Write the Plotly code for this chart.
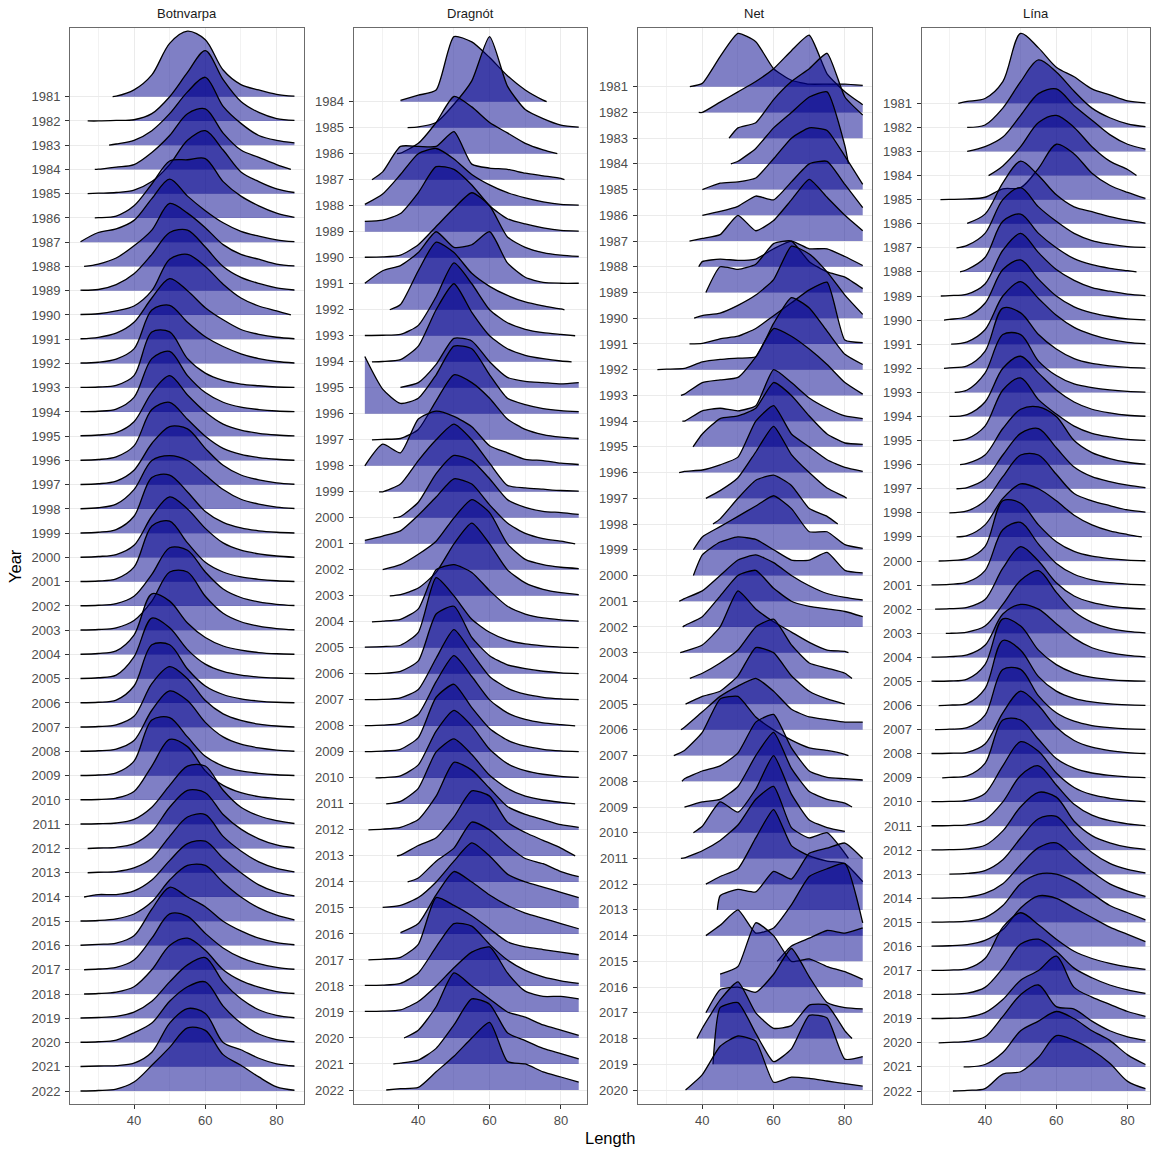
import plotly.graph_objects as go

# ---------------- data ----------------
GRID = [25, 30, 35, 40, 45, 50, 55, 60, 65, 70, 75, 80, 85]

BOT_YEARS = list(range(1981, 2023))
BOT_START = [34, 27, 33, 29, 27, 29, 25, 26, 25, 25, 25, 25, 25, 25, 25, 25, 25, 25, 25, 25, 25,
             25, 25, 25, 25, 25, 25, 25, 25, 25, 25, 27, 27, 26, 25, 25, 26, 26, 25, 25, 25, 25]
BOT_END = [85, 85, 85, 84, 85, 85, 85, 85, 85, 84, 85, 85, 85, 85, 85, 85, 85, 85, 85, 85, 85,
           85, 85, 85, 85, 85, 85, 85, 85, 85, 85, 85, 85, 85, 85, 85, 85, 85, 85, 85, 85, 85]
BOT_DENS = [
    [0, 0, 2, 28, 90, 220, 270, 235, 110, 50, 28, 10, 2],
    [0, 0, 2, 5, 30, 100, 200, 290, 170, 80, 35, 10, 2],
    [0, 0, 5, 20, 60, 130, 220, 280, 160, 90, 40, 20, 10],
    [0, 1, 10, 20, 70, 140, 230, 250, 150, 80, 50, 20, 0],
    [0, 2, 5, 15, 50, 120, 220, 260, 180, 90, 50, 20, 5],
    [0, 1, 8, 50, 140, 235, 240, 245, 150, 90, 50, 20, 2],
    [2, 40, 55, 90, 180, 260, 190, 130, 80, 45, 25, 10, 2],
    [0, 10, 35, 85, 150, 260, 220, 160, 90, 50, 30, 10, 2],
    [2, 5, 25, 70, 150, 240, 250, 180, 100, 55, 30, 12, 3],
    [2, 5, 17, 37, 100, 230, 250, 200, 127, 70, 37, 17, 0],
    [2, 8, 25, 70, 170, 250, 200, 130, 80, 40, 20, 8, 2],
    [2, 5, 18, 60, 220, 240, 170, 110, 70, 40, 20, 8, 2],
    [1, 3, 10, 50, 230, 230, 120, 60, 30, 15, 8, 3, 1],
    [1, 3, 12, 60, 220, 250, 150, 80, 40, 20, 10, 4, 1],
    [2, 5, 15, 60, 180, 250, 170, 100, 50, 25, 12, 5, 1],
    [1, 4, 15, 60, 210, 240, 170, 100, 50, 25, 12, 5, 1],
    [1, 4, 15, 60, 170, 240, 230, 150, 80, 40, 20, 8, 2],
    [1, 5, 20, 80, 200, 220, 200, 140, 80, 40, 20, 8, 2],
    [1, 4, 15, 70, 230, 240, 170, 90, 45, 22, 10, 4, 1],
    [1, 4, 12, 50, 170, 250, 200, 120, 60, 30, 15, 6, 1],
    [1, 3, 12, 60, 230, 250, 160, 80, 40, 20, 10, 4, 1],
    [1, 3, 10, 40, 130, 240, 230, 140, 70, 35, 17, 7, 2],
    [1, 3, 10, 40, 120, 240, 240, 140, 70, 35, 17, 7, 2],
    [1, 4, 15, 80, 250, 220, 130, 70, 35, 18, 8, 3, 1],
    [1, 4, 15, 90, 250, 210, 120, 60, 30, 15, 7, 3, 1],
    [1, 3, 12, 70, 240, 240, 140, 70, 35, 17, 8, 3, 1],
    [1, 3, 10, 45, 180, 250, 200, 110, 55, 28, 13, 5, 1],
    [1, 3, 10, 45, 170, 250, 210, 120, 60, 30, 15, 6, 1],
    [1, 3, 12, 60, 230, 240, 160, 80, 40, 20, 10, 4, 1],
    [1, 2, 8, 35, 140, 250, 220, 120, 60, 30, 14, 6, 1],
    [1, 2, 5, 20, 70, 160, 240, 240, 140, 70, 35, 15, 3],
    [0, 2, 5, 20, 70, 170, 240, 230, 140, 80, 40, 15, 3],
    [0, 2, 5, 20, 60, 150, 230, 240, 150, 90, 45, 18, 4],
    [0, 10, 10, 25, 70, 150, 220, 230, 160, 100, 50, 20, 5],
    [1, 3, 10, 30, 80, 170, 230, 230, 160, 100, 55, 25, 6],
    [1, 5, 10, 40, 150, 240, 200, 160, 100, 60, 30, 12, 3],
    [0, 3, 10, 40, 130, 230, 220, 150, 90, 50, 25, 10, 2],
    [0, 2, 8, 30, 100, 200, 230, 180, 100, 55, 28, 10, 2],
    [1, 3, 8, 25, 70, 150, 220, 250, 150, 80, 35, 12, 2],
    [1, 3, 10, 40, 80, 170, 230, 250, 150, 80, 35, 12, 3],
    [1, 3, 5, 15, 60, 180, 240, 220, 100, 70, 35, 12, 3],
    [0, 2, 8, 37, 106, 180, 260, 250, 150, 106, 58, 17, 3],
]

DRA_YEARS = list(range(1984, 2023))
DRA_START = [35, 37, 34, 27, 25, 25, 25, 25, 32, 25, 27, 35, 25, 27, 25, 29, 33, 25, 30, 32,
             27, 25, 25, 25, 25, 25, 28, 31, 26, 34, 37, 30, 35, 26, 25, 25, 36, 33, 31]
DRA_END = [76, 85, 79, 81, 85, 85, 85, 85, 81, 84, 83, 85, 85, 85, 85, 85, 85, 84, 85, 85,
           85, 85, 85, 85, 84, 85, 85, 84, 85, 84, 85, 85, 85, 85, 85, 85, 85, 85, 85]
DRA_DENS = [
    [0, 0, 5, 25, 45, 250, 230, 170, 100, 45, 6, 0, 0],
    [0, 0, 0, 3, 20, 90, 180, 350, 160, 70, 35, 10, 2],
    [0, 0, 2, 40, 120, 220, 180, 120, 80, 40, 15, 0, 0],
    [0, 30, 128, 128, 128, 185, 60, 45, 40, 25, 15, 5, 0],
    [5, 45, 120, 200, 220, 180, 120, 80, 50, 30, 15, 5, 2],
    [40, 45, 70, 150, 250, 240, 180, 100, 50, 30, 15, 5, 2],
    [2, 3, 10, 50, 120, 190, 250, 200, 80, 40, 20, 10, 5],
    [2, 50, 70, 120, 200, 140, 150, 200, 80, 25, 5, 2, 2],
    [0, 0, 20, 150, 260, 220, 140, 90, 55, 30, 15, 3, 0],
    [1, 2, 5, 40, 150, 280, 200, 100, 50, 25, 12, 5, 0],
    [0, 1, 8, 60, 200, 300, 190, 100, 50, 25, 12, 3, 0],
    [0, 0, 2, 20, 90, 190, 180, 100, 40, 25, 20, 15, 20],
    [220, 95, 40, 60, 150, 260, 250, 150, 60, 35, 20, 12, 8],
    [0, 2, 5, 40, 150, 250, 220, 160, 80, 40, 20, 10, 5],
    [0, 83, 50, 180, 210, 190, 150, 77, 50, 25, 20, 10, 5],
    [0, 0, 30, 120, 200, 260, 200, 110, 25, 15, 10, 5, 3],
    [0, 0, 5, 60, 170, 240, 220, 150, 70, 40, 25, 20, 13],
    [13, 30, 50, 110, 180, 250, 230, 150, 80, 40, 20, 10, 0],
    [0, 1, 20, 60, 110, 200, 270, 220, 100, 40, 20, 10, 5],
    [0, 0, 5, 30, 90, 200, 280, 200, 100, 50, 25, 12, 5],
    [0, 3, 10, 50, 200, 220, 190, 120, 60, 30, 15, 8, 3],
    [3, 5, 10, 60, 270, 200, 110, 60, 30, 15, 8, 3, 1],
    [1, 2, 10, 50, 230, 260, 140, 70, 35, 20, 10, 4, 1],
    [1, 2, 8, 40, 160, 270, 180, 90, 45, 22, 10, 4, 1],
    [1, 3, 10, 45, 170, 270, 190, 100, 50, 25, 12, 5, 0],
    [1, 3, 10, 55, 210, 260, 170, 90, 45, 22, 10, 4, 1],
    [0, 1, 8, 50, 180, 260, 200, 110, 55, 28, 14, 6, 2],
    [0, 0, 10, 60, 200, 250, 190, 110, 60, 30, 15, 6, 0],
    [0, 3, 10, 40, 130, 260, 230, 160, 90, 60, 40, 20, 10],
    [0, 0, 3, 40, 70, 150, 250, 230, 130, 90, 60, 30, 0],
    [0, 0, 0, 15, 80, 130, 230, 200, 140, 90, 70, 40, 20],
    [0, 2, 10, 40, 100, 180, 250, 200, 130, 100, 80, 60, 40],
    [0, 0, 5, 40, 150, 240, 200, 150, 110, 80, 60, 40, 20],
    [0, 3, 10, 60, 240, 210, 170, 120, 70, 50, 40, 30, 20],
    [2, 3, 10, 50, 150, 240, 230, 160, 100, 60, 35, 20, 10],
    [2, 3, 8, 40, 100, 170, 230, 250, 150, 80, 60, 60, 50],
    [0, 0, 0, 30, 120, 250, 200, 150, 100, 80, 50, 30, 10],
    [0, 0, 3, 15, 60, 150, 250, 230, 120, 90, 60, 40, 20],
    [0, 0, 5, 10, 70, 130, 200, 260, 110, 100, 70, 50, 30],
]

NET_YEARS = list(range(1981, 2021))
NET_START = [36.5, 39, 47.5, 48, 40, 40, 36.4, 39, 41, 37.7, 36.4, 27.4, 34, 34.4, 37.4, 33.5,
             41, 43, 37.5, 37.5, 33.5, 34.5, 33.8, 36.5, 35.3, 34, 32, 34.3, 35, 37.5, 34, 41,
             44.2, 41, 61, 45, 41, 38.5, 43, 35.3]
NET_END = [85, 85, 85, 81, 85, 85, 85, 85, 85, 85, 85, 85, 85, 85, 85, 85, 80.5, 78, 85, 85,
           85, 85, 81, 82, 80, 85, 81, 85, 82, 80, 81, 85, 85, 85, 85, 85, 85, 82, 85, 85]
NET_DENS = [
    [0, 0, 0, 13, 117, 207, 175, 70, 25, 10, 10, 10, 5],
    [0, 0, 0, 0, 40, 80, 120, 170, 240, 300, 150, 80, 30],
    [0, 0, 0, 0, 0, 40, 60, 150, 220, 270, 330, 160, 90],
    [0, 0, 0, 0, 0, 10, 60, 140, 200, 260, 280, 70, 0],
    [0, 0, 0, 0, 25, 30, 45, 120, 200, 240, 230, 130, 20],
    [0, 0, 0, 0, 15, 35, 75, 60, 130, 200, 210, 120, 30],
    [0, 0, 0, 10, 25, 100, 40, 80, 160, 240, 170, 100, 40],
    [0, 0, 0, 20, 30, 25, 30, 70, 100, 70, 70, 40, 5],
    [0, 0, 0, 0, 100, 90, 110, 190, 200, 120, 80, 60, 15],
    [0, 0, 0, 10, 20, 50, 90, 150, 280, 250, 180, 90, 15],
    [0, 0, 0, 2, 20, 30, 60, 110, 160, 210, 240, 15, 5],
    [0, 2, 5, 30, 40, 45, 50, 180, 280, 240, 150, 60, 20],
    [0, 0, 5, 50, 60, 70, 150, 260, 230, 180, 120, 50, 5],
    [0, 0, 0, 40, 50, 40, 60, 200, 150, 90, 50, 20, 10],
    [0, 0, 0, 50, 110, 120, 150, 250, 200, 120, 50, 15, 10],
    [0, 0, 5, 10, 30, 60, 200, 260, 150, 100, 50, 20, 5],
    [0, 0, 0, 0, 30, 80, 180, 280, 170, 100, 40, 5, 0],
    [0, 0, 0, 0, 20, 100, 170, 190, 150, 60, 30, 0, 0],
    [0, 0, 0, 50, 90, 130, 170, 210, 160, 70, 70, 20, 5],
    [0, 0, 0, 80, 130, 150, 140, 100, 60, 60, 90, 20, 10],
    [0, 0, 10, 40, 100, 160, 180, 150, 100, 60, 30, 15, 5],
    [0, 0, 5, 40, 120, 200, 220, 150, 100, 80, 70, 60, 40],
    [0, 0, 5, 30, 100, 240, 170, 120, 80, 40, 10, 5, 0],
    [0, 0, 0, 20, 60, 110, 200, 230, 130, 60, 40, 20, 0],
    [0, 0, 0, 30, 50, 110, 220, 200, 110, 50, 20, 0, 0],
    [0, 0, 10, 70, 130, 170, 200, 150, 80, 50, 40, 30, 30],
    [0, 0, 20, 90, 220, 230, 150, 100, 60, 30, 20, 5, 0],
    [0, 0, 10, 40, 60, 110, 230, 260, 130, 40, 15, 10, 5],
    [0, 0, 0, 20, 30, 80, 200, 290, 150, 60, 30, 15, 0],
    [0, 0, 0, 25, 120, 80, 170, 300, 150, 50, 20, 5, 0],
    [0, 0, 2, 30, 70, 130, 230, 280, 120, 80, 100, 20, 0],
    [0, 0, 0, 0, 30, 60, 180, 290, 150, 110, 90, 80, 10],
    [0, 0, 0, 0, 55, 80, 70, 150, 120, 220, 240, 260, 200],
    [0, 0, 0, 0, 40, 100, 10, 30, 120, 230, 260, 280, 50],
    [0, 0, 0, 0, 0, 0, 0, 0, 60, 90, 120, 110, 130],
    [0, 0, 0, 0, 50, 80, 250, 200, 100, 110, 80, 60, 30],
    [0, 0, 0, 0, 90, 100, 80, 150, 250, 140, 40, 20, 15],
    [0, 0, 0, 40, 150, 220, 100, 40, 50, 130, 130, 30, 0],
    [0, 0, 0, 0, 220, 240, 120, 10, 60, 190, 180, 20, 30],
    [0, 0, 0, 60, 170, 210, 190, 30, 50, 45, 35, 25, 15],
]

LINA_YEARS = list(range(1981, 2023))
LINA_START = [32.5, 35, 35, 41, 27.5, 35, 32, 33, 27.6, 28.5, 30.5, 28.5, 31.5, 30, 31, 33, 32,
              30, 32, 27, 25, 26, 29, 25, 25, 27, 26, 25, 28, 25, 25, 25, 30, 25, 25, 25, 25,
              25, 25, 27, 34, 31]
LINA_END = [85, 85, 85, 82.5, 85, 85, 85, 82.5, 85, 85, 85, 85, 85, 85, 85, 85, 85, 85, 84, 85,
            85, 85, 85, 85, 85, 85, 85, 85, 85, 85, 85, 85, 85, 85, 85, 85, 85, 85, 85, 85, 85, 85]
LINA_DENS = [
    [0, 0, 8, 20, 90, 290, 230, 150, 110, 60, 35, 10, 2],
    [0, 0, 0, 10, 80, 190, 280, 230, 150, 80, 40, 15, 3],
    [0, 0, 0, 20, 60, 150, 240, 260, 190, 130, 70, 30, 10],
    [0, 0, 0, 0, 40, 120, 220, 250, 200, 120, 60, 25, 0],
    [0, 1, 3, 10, 45, 50, 130, 230, 190, 110, 60, 30, 5],
    [0, 0, 2, 40, 170, 260, 200, 120, 70, 50, 30, 15, 3],
    [0, 0, 10, 60, 200, 250, 170, 110, 60, 30, 15, 5, 2],
    [0, 0, 10, 60, 210, 240, 160, 100, 55, 30, 15, 5, 0],
    [0, 2, 8, 50, 190, 260, 180, 110, 65, 35, 20, 8, 2],
    [0, 3, 15, 70, 210, 250, 170, 100, 55, 30, 15, 5, 1],
    [0, 0, 10, 60, 200, 260, 190, 120, 70, 40, 20, 8, 2],
    [0, 2, 10, 70, 250, 230, 140, 80, 40, 20, 10, 4, 1],
    [0, 0, 10, 80, 240, 240, 130, 70, 35, 20, 10, 4, 1],
    [0, 0, 8, 60, 200, 250, 180, 110, 60, 30, 15, 5, 1],
    [0, 0, 8, 60, 210, 260, 170, 110, 60, 30, 15, 5, 1],
    [0, 0, 5, 40, 150, 230, 240, 200, 100, 50, 25, 10, 2],
    [0, 0, 5, 40, 140, 230, 250, 170, 90, 50, 30, 15, 5],
    [0, 0, 8, 50, 150, 240, 240, 160, 80, 50, 30, 12, 3],
    [0, 0, 5, 50, 160, 220, 200, 150, 90, 50, 25, 10, 0],
    [0, 2, 10, 60, 250, 240, 150, 80, 40, 20, 10, 4, 1],
    [1, 3, 12, 60, 230, 260, 170, 90, 45, 22, 10, 4, 1],
    [0, 2, 8, 40, 170, 260, 200, 110, 55, 28, 13, 5, 1],
    [0, 0, 5, 30, 120, 220, 260, 170, 90, 45, 20, 8, 2],
    [1, 3, 10, 50, 180, 220, 200, 140, 80, 40, 20, 8, 2],
    [1, 2, 10, 70, 260, 230, 130, 70, 35, 17, 8, 3, 1],
    [0, 2, 8, 70, 270, 230, 120, 60, 30, 15, 7, 3, 1],
    [0, 2, 8, 60, 250, 250, 140, 70, 35, 17, 8, 3, 1],
    [1, 2, 6, 40, 170, 260, 200, 110, 55, 27, 13, 5, 1],
    [0, 2, 8, 60, 240, 240, 160, 80, 40, 20, 10, 4, 1],
    [1, 2, 6, 35, 150, 250, 210, 120, 60, 30, 15, 6, 1],
    [1, 2, 5, 25, 100, 210, 250, 170, 90, 45, 22, 9, 2],
    [1, 2, 5, 20, 80, 180, 240, 220, 120, 60, 30, 12, 3],
    [0, 0, 3, 15, 60, 150, 230, 240, 160, 90, 45, 20, 5],
    [1, 2, 5, 20, 60, 140, 210, 230, 170, 110, 60, 30, 8],
    [1, 2, 5, 20, 70, 160, 200, 200, 170, 120, 70, 40, 10],
    [1, 3, 8, 25, 70, 160, 210, 200, 160, 120, 80, 50, 20],
    [1, 2, 8, 50, 180, 240, 190, 130, 80, 50, 30, 15, 5],
    [1, 2, 6, 30, 110, 210, 230, 180, 110, 70, 40, 20, 5],
    [1, 2, 6, 25, 80, 160, 200, 260, 130, 90, 60, 30, 10],
    [0, 2, 6, 25, 110, 200, 240, 150, 140, 90, 50, 25, 10],
    [0, 0, 0, 10, 60, 150, 190, 230, 200, 150, 110, 50, 10],
    [0, 0, 3, 10, 70, 80, 140, 230, 210, 170, 115, 40, 10],
]

PANEL_TITLES = ["Botnvarpa", "Dragnót", "Net", "Lína"]
X_TICKS = [40, 60, 80]
X_MINOR = [30, 50, 70]

# ---------------- layout / style ----------------
W, H = 1151, 1149
FILL = "rgba(0,0,139,0.5)"
LINE = "black"
FONT = "Liberation Sans, Arial, Helvetica, sans-serif"
PANEL_LEFT = [70, 353.5, 637.5, 921.5]
PANEL_RIGHT = [303.5, 587, 871.5, 1150]
X40_PX = [134, 418.3, 702.3, 985]
PPU = 3.565
TOP_PX, BOT_PX = 28, 1104
FIRST_BASE = [96.7, 101.7, 86.7, 103.3]
LAST_BASE = [1091, 1090, 1090, 1091]
SCALE = 0.01  # density units -> row heights
SMOOTH = [0.9, 0.6, 0.5, 0.9]

panels = [
    (BOT_YEARS, BOT_START, BOT_END, BOT_DENS),
    (DRA_YEARS, DRA_START, DRA_END, DRA_DENS),
    (NET_YEARS, NET_START, NET_END, NET_DENS),
    (LINA_YEARS, LINA_START, LINA_END, LINA_DENS),
]

fig = go.Figure()
layout = dict(
    width=W, height=H, margin=dict(l=0, r=0, t=0, b=0),
    paper_bgcolor="white", plot_bgcolor="white", showlegend=False,
    font=dict(family=FONT, color="#4D4D4D"),
)
annotations = []

for k, (years, starts, ends, dens) in enumerate(panels):
    n = len(years)
    xa = "x" if k == 0 else f"x{k+1}"
    ya = "y" if k == 0 else f"y{k+1}"
    for i, yr in enumerate(years):
        base = n - 1 - i
        s, e = starts[i], ends[i]
        xs, hs = [], []
        if s not in GRID:
            xs.append(s); hs.append(0.0)
        for g, d in zip(GRID, dens[i]):
            if s <= g <= e:
                xs.append(g); hs.append(d * SCALE)
        if e not in GRID:
            xs.append(e); hs.append(0.0)
        top = [base + h for h in hs]
        # baseline (invisible) then curve filled down to it
        fig.add_trace(go.Scatter(
            x=[xs[0], xs[-1]], y=[base, base], mode="lines",
            line=dict(width=0, color="rgba(0,0,0,0)"),
            hoverinfo="skip", xaxis=xa, yaxis=ya))
        fig.add_trace(go.Scatter(
            x=xs, y=top, mode="lines", fill="tonexty", fillcolor=FILL,
            line=dict(color=LINE, width=1.3, shape="spline", smoothing=SMOOTH[k]),
            hoverinfo="skip", xaxis=xa, yaxis=ya))

    # axis geometry
    left, right = PANEL_LEFT[k], PANEL_RIGHT[k]
    xmin = 40 - (X40_PX[k] - left) / PPU
    xmax = 40 + (right - X40_PX[k]) / PPU
    spacing = (LAST_BASE[k] - FIRST_BASE[k]) / (n - 1)
    ymin = -(BOT_PX - LAST_BASE[k]) / spacing
    ymax = (n - 1) + (FIRST_BASE[k] - TOP_PX) / spacing
    axis_common = dict(
        showline=True, mirror=True, linecolor="#6b6b6b", linewidth=1,
        ticks="outside", ticklen=4, tickwidth=1, tickcolor="#333333",
        tickfont=dict(size=13, color="#4D4D4D", family=FONT),
        zeroline=False, showgrid=True, gridcolor="#EBEBEB", gridwidth=1,
    )
    layout["xaxis" if k == 0 else f"xaxis{k+1}"] = dict(
        axis_common, domain=[left / W, right / W], range=[xmin, xmax],
        tickvals=X_TICKS, anchor=ya,
        minor=dict(tickvals=X_MINOR, showgrid=True, gridcolor="#F2F2F2",
                   gridwidth=0.6, ticks=""),
    )
    layout["yaxis" if k == 0 else f"yaxis{k+1}"] = dict(
        axis_common, domain=[1 - BOT_PX / H, 1 - TOP_PX / H], range=[ymin, ymax],
        tickvals=[n - 1 - i for i in range(n)], ticktext=[str(y) for y in years],
        anchor=xa, ticklabelstandoff=2,
    )
    annotations.append(dict(
        text=PANEL_TITLES[k], x=(left + right) / 2 / W, y=1 - 14 / H,
        xref="paper", yref="paper", showarrow=False, xanchor="center", yanchor="middle",
        font=dict(size=13, color="#1A1A1A", family=FONT)))

annotations.append(dict(text="Year", x=15 / W, y=1 - 566 / H, xref="paper", yref="paper",
                        showarrow=False, textangle=-90, xanchor="center", yanchor="middle",
                        font=dict(size=16.5, color="black", family=FONT)))
annotations.append(dict(text="Length", x=610 / W, y=1 - 1138 / H, xref="paper", yref="paper",
                        showarrow=False, xanchor="center", yanchor="middle",
                        font=dict(size=16.5, color="black", family=FONT)))
layout["annotations"] = annotations
fig.update_layout(**layout)
fig.write_html("out.html")
